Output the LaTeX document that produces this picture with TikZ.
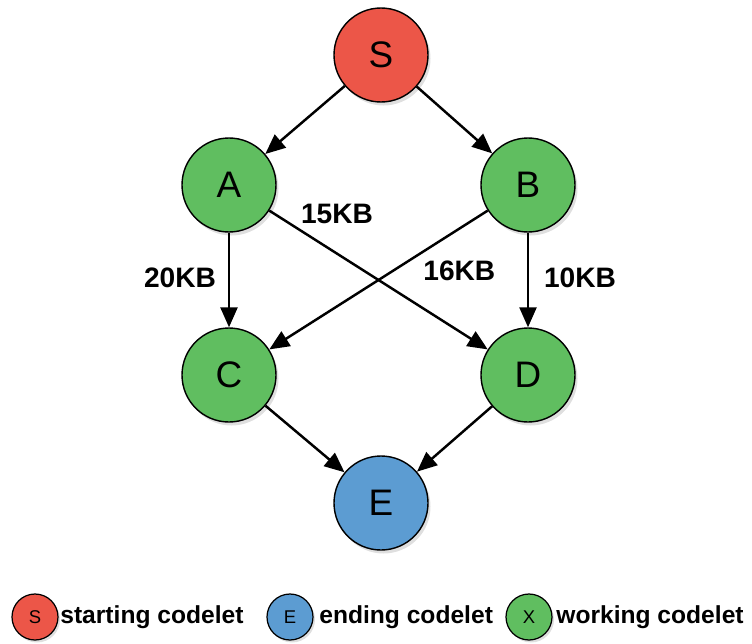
\documentclass[tikz,border=0pt]{standalone}
\usepackage{fontspec}
\setmainfont{Liberation Sans}
\usetikzlibrary{arrows.meta,shadows}
\definecolor{startred}{RGB}{236,86,72}
\definecolor{workgreen}{RGB}{96,190,96}
\definecolor{endblue}{RGB}{92,156,210}

\begin{document}
\begin{tikzpicture}[
    codelet/.style={circle, draw, line width=0.8pt, minimum size=1.88cm, inner sep=0pt,
        font=\fontsize{21}{21}\selectfont,
        drop shadow={opacity=0.25, shadow xshift=0.05cm, shadow yshift=-0.07cm}},
    keyball/.style={circle, draw, line width=0.7pt, minimum size=0.92cm, inner sep=0pt,
        font=\fontsize{10.5}{10.5}\selectfont,
        drop shadow={opacity=0.25, shadow xshift=0.04cm, shadow yshift=-0.05cm}},
    keytext/.style={anchor=west, inner sep=0pt, font=\fontsize{14}{14}\selectfont\bfseries},
    flow/.style={line width=1.4pt, -{Triangle[length=0.4cm, width=0.34cm]}},
    size/.style={font=\fontsize{16}{16}\selectfont\bfseries}
]
                    \useasboundingbox (0,0) rectangle (15.04,12.86);

                    \node[codelet, fill=startred] (s) at (7.62,11.76) {S};
                    \node[codelet, fill=workgreen] (a) at (4.58,9.16) {A};
                    \node[codelet, fill=workgreen] (b) at (10.56,9.16) {B};
                    \node[codelet, fill=workgreen] (c) at (4.58,5.36) {C};
                    \node[codelet, fill=workgreen] (d) at (10.56,5.36) {D};
                    \node[codelet, fill=endblue] (e) at (7.62,2.80) {E};

                    \draw[flow] (s) -- (a);
                    \draw[flow] (s) -- (b);
                    \draw[flow] (a) -- node[size, pos=.48, xshift=-0.98cm] {20KB} (c);
                    \draw[flow] (a) -- node[size, pos=.31, yshift=0.8cm] {15KB} (d);
                    \draw[flow] (b) -- node[size, pos=.13, yshift=-0.84cm] {16KB} (c);
                    \draw[flow] (b) -- node[size, pos=.48, xshift=1.04cm] {10KB} (d);
                    \draw[flow] (c) -- (e);
                    \draw[flow] (d) -- (e);

                    % legend
                    \node[keyball, fill=startred] (ks) at (0.70,0.52) {S};
                    \node[keytext] (ts) at (1.20,0.52) {starting codelet};
                    \node[keyball, fill=endblue] (ke) at (5.80,0.52) {E};
                    \node[keytext] (te) at (6.38,0.52) {ending codelet};
                    \node[keyball, fill=workgreen] (kx) at (10.58,0.52) {X};
                    \node[keytext] (tx) at (11.12,0.52) {working codelet};

                \end{tikzpicture}
\end{document}
